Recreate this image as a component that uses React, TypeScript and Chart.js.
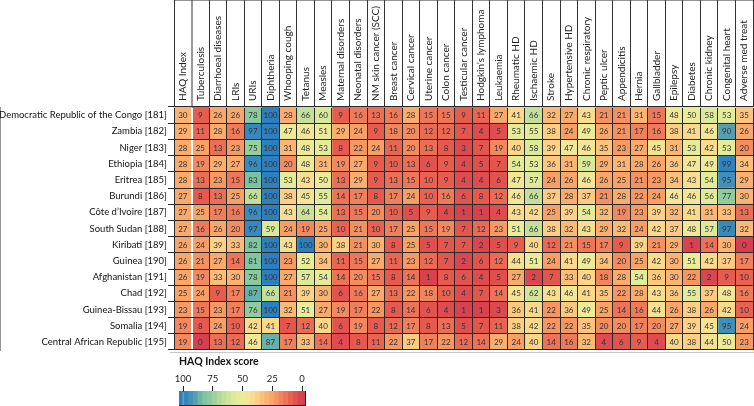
import React, { useEffect, useRef } from 'react';
import { Chart, registerables } from 'chart.js';

Chart.register(...registerables);

const columns = [
  'HAQ Index', 'Tuberculosis', 'Diarrhoeal diseases', 'LRIs', 'URIs', 'Diphtheria', 'Whooping cough',
  'Tetanus', 'Measles', 'Maternal disorders', 'Neonatal disorders', 'NM skin cancer (SCC)', 'Breast cancer',
  'Cervical cancer', 'Uterine cancer', 'Colon cancer', 'Testicular cancer', 'Hodgkin\u2019s lymphoma',
  'Leukaemia', 'Rheumatic HD', 'Ischaemic HD', 'Stroke', 'Hypertensive HD', 'Chronic respiratory',
  'Peptic ulcer', 'Appendicitis', 'Hernia', 'Gallbladder', 'Epilepsy', 'Diabetes', 'Chronic kidney',
  'Congenital heart', 'Adverse med treat',
];

const countries = [
  'Democratic Republic of the Congo [181]', 'Zambia [182]', 'Niger [183]', 'Ethiopia [184]',
  'Eritrea [185]', 'Burundi [186]', 'C\u00f4te d\u2019Ivoire [187]', 'South Sudan [188]', 'Kiribati [189]',
  'Guinea [190]', 'Afghanistan [191]', 'Chad [192]', 'Guinea-Bissau [193]', 'Somalia [194]',
  'Central African Republic [195]',
];

const drc = [30, 9, 26, 26, 78, 100, 28, 66, 60, 9, 16, 13, 16, 28, 15, 15, 9, 11, 27, 41, 66, 32, 27, 43, 21, 21, 31, 15, 48, 50, 58, 53, 35];
const zambia = [29, 11, 28, 16, 97, 100, 47, 46, 51, 29, 24, 9, 18, 20, 12, 12, 7, 4, 5, 53, 55, 38, 24, 49, 26, 21, 17, 16, 38, 41, 46, 90, 26];
const niger = [28, 25, 13, 23, 75, 100, 31, 48, 53, 8, 22, 24, 11, 20, 13, 8, 3, 7, 19, 40, 58, 39, 47, 46, 35, 23, 27, 45, 31, 53, 42, 53, 20];
const ethiopia = [28, 19, 29, 27, 96, 100, 20, 48, 31, 19, 27, 9, 10, 13, 6, 9, 4, 5, 7, 54, 53, 36, 31, 59, 29, 31, 28, 26, 36, 47, 49, 99, 34];
const eritrea = [28, 13, 23, 15, 83, 100, 53, 43, 50, 13, 29, 9, 13, 15, 10, 9, 4, 4, 6, 47, 57, 24, 26, 46, 26, 25, 21, 23, 34, 43, 54, 95, 29];
const burundi = [27, 8, 13, 25, 66, 100, 38, 45, 55, 14, 17, 8, 17, 24, 10, 16, 6, 8, 12, 46, 66, 37, 28, 37, 21, 28, 22, 24, 46, 46, 56, 77, 30];
const coteDIvoire = [27, 25, 17, 16, 96, 100, 43, 64, 54, 13, 15, 20, 10, 5, 9, 4, 1, 1, 4, 43, 42, 25, 39, 54, 32, 19, 23, 39, 32, 41, 31, 33, 13];
const southSudan = [27, 16, 26, 20, 97, 59, 24, 19, 25, 10, 21, 10, 17, 25, 15, 19, 7, 12, 23, 51, 66, 38, 32, 43, 29, 32, 24, 42, 37, 48, 57, 97, 32];
const kiribati = [26, 24, 39, 33, 82, 100, 43, 100, 30, 38, 21, 30, 8, 25, 5, 7, 7, 2, 5, 9, 40, 12, 21, 15, 17, 9, 39, 21, 29, 1, 14, 30, 0];
const guinea = [26, 21, 27, 14, 81, 100, 23, 52, 34, 11, 15, 27, 11, 23, 12, 7, 2, 6, 12, 44, 51, 24, 41, 49, 34, 20, 25, 42, 30, 51, 42, 37, 17];
const afghanistan = [26, 19, 33, 30, 78, 100, 27, 57, 54, 14, 20, 15, 8, 14, 1, 8, 6, 4, 5, 27, 2, 7, 33, 40, 18, 28, 54, 36, 30, 22, 2, 9, 10];
const chad = [25, 24, 9, 17, 87, 66, 21, 39, 30, 6, 16, 27, 13, 22, 18, 10, 4, 7, 14, 45, 62, 43, 46, 41, 35, 22, 28, 43, 36, 55, 37, 48, 16];
const guineaBissau = [23, 15, 23, 17, 76, 100, 32, 51, 27, 19, 17, 22, 8, 14, 6, 4, 1, 1, 3, 36, 41, 22, 36, 49, 25, 14, 16, 44, 26, 38, 26, 42, 10];
const somalia = [19, 8, 24, 10, 42, 41, 7, 12, 40, 6, 19, 8, 12, 17, 8, 13, 5, 7, 11, 38, 42, 22, 22, 35, 20, 20, 17, 20, 27, 39, 45, 95, 24];
const car = [19, 0, 13, 12, 46, 87, 17, 33, 14, 4, 8, 11, 22, 37, 17, 22, 12, 14, 29, 24, 40, 14, 16, 32, 4, 6, 9, 4, 40, 38, 44, 50, 23];

const rows = [drc, zambia, niger, ethiopia, eritrea, burundi, coteDIvoire, southSudan, kiribati, guinea, afghanistan, chad, guineaBissau, somalia, car];

const legendTicks = [100, 75, 50, 25, 0];

const colorStops: [number, string][] = [
  [0, '#d63f4f'], [8, '#e5594e'], [16, '#ef7a5a'], [24, '#f79f66'], [32, '#fbb976'],
  [40, '#fdd68a'], [46, '#f3e696'], [52, '#e7ed99'], [60, '#d6e89a'], [68, '#bcdd9b'],
  [76, '#92cc9d'], [84, '#77c2a2'], [90, '#559fb0'], [96, '#3a8cbc'], [100, '#2d7fbe'],
];

function hexToRgb(h: string) {
  const n = parseInt(h.slice(1), 16);
  return [(n >> 16) & 255, (n >> 8) & 255, n & 255];
}

function haqColor(v: number) {
  const t = Math.max(0, Math.min(100, v));
  for (let i = 0; i < colorStops.length - 1; i++) {
    const [a, ca] = colorStops[i];
    const [b, cb] = colorStops[i + 1];
    if (t >= a && t <= b) {
      const f = b === a ? 0 : (t - a) / (b - a);
      const A = hexToRgb(ca);
      const B = hexToRgb(cb);
      const c = A.map((x, k) => Math.round(x + (B[k] - x) * f));
      return `rgb(${c[0]},${c[1]},${c[2]})`;
    }
  }
  return colorStops[colorStops.length - 1][1];
}

const FONT = 'Lato, "Open Sans", sans-serif';
const LINE = '#2b2b2b';

const cellText = {
  id: 'cellText',
  afterDatasetsDraw(chart: any) {
    const ctx = chart.ctx;
    ctx.save();
    ctx.font = `8px ${FONT}`;
    ctx.fillStyle = '#333';
    ctx.textAlign = 'center';
    ctx.textBaseline = 'middle';
    chart.data.datasets.forEach((_ds: any, ci: number) => {
      const meta = chart.getDatasetMeta(ci);
      meta.data.forEach((el: any, ri: number) => {
        const p = el.getCenterPoint();
        ctx.fillText(String(rows[ri][ci]), p.x, p.y + 0.5);
      });
    });
    ctx.restore();
  },
};

export default function App() {
  const mainRef = useRef<HTMLCanvasElement>(null);
  const legendRef = useRef<HTMLCanvasElement>(null);

  useEffect(() => {
    const charts: Chart[] = [];
    let cancelled = false;
    const build = () => {
      if (cancelled || !mainRef.current || !legendRef.current) return;
      const datasets = columns.map((col, ci) => ({
        label: col,
        data: countries.map(() => 1),
        backgroundColor: rows.map((r) => haqColor(r[ci])),
        borderWidth: 0,
        barPercentage: 1,
        categoryPercentage: 1,
        xAxisID: 'x',
        yAxisID: 'y',
      }));
      charts.push(
        new Chart(mainRef.current, {
          type: 'bar',
          data: { labels: countries, datasets },
          plugins: [cellText],
          options: {
            indexAxis: 'y',
            animation: false,
            responsive: false,
            layout: { padding: { top: 0, left: 0, right: 1, bottom: 56 } },
            plugins: { legend: { display: false }, tooltip: { enabled: false } },
            scales: {
              x: { type: 'linear', stacked: true, min: 0, max: columns.length, display: false },
              x2: {
                type: 'category',
                labels: columns,
                position: 'top',
                offset: true,
                grid: {
                  offset: true,
                  drawOnChartArea: true,
                  tickLength: 107,
                  color: (c: any) => (c.index === 1 ? '#ffffff' : LINE),
                  lineWidth: (c: any) => (c.index === 1 ? 2 : 1),
                  tickColor: '#333',
                  tickWidth: 1,
                  z: 1,
                },
                border: { display: true, color: LINE },
                ticks: {
                  autoSkip: false,
                  minRotation: 90,
                  maxRotation: 90,
                  mirror: true,
                  padding: -6,
                  font: { family: FONT, size: 10 },
                  color: '#222',
                },
                afterFit: (s: any) => { s.height = 107; },
              },
              y: {
                type: 'category',
                stacked: true,
                offset: true,
                grid: { offset: true, tickLength: 6, color: LINE, z: 1 },
                border: { color: LINE },
                ticks: { autoSkip: false, padding: 1, font: { family: FONT, size: 9.5 }, color: '#111' },
                afterFit: (s: any) => { s.width = 174; },
              },
            },
          } as any,
        })
      );

      const segDatasets = [] as any[];
      for (let k = 0; k < 27; k++) {
        const lo = -4 + 4 * k;
        const hi = lo + 4;
        segDatasets.push({
          data: [[lo, hi]],
          backgroundColor: haqColor(100 - (lo + hi) / 2),
          borderWidth: 0,
          barPercentage: 1,
          categoryPercentage: 1,
          grouped: false,
          xAxisID: 'x',
          yAxisID: 'y',
        });
      }
      charts.push(
        new Chart(legendRef.current, {
          type: 'bar',
          data: { labels: ['HAQ'], datasets: segDatasets },
          options: {
            indexAxis: 'y',
            animation: false,
            responsive: false,
            layout: { padding: { left: 9, right: 15, top: 0, bottom: 1 } },
            plugins: { legend: { display: false }, tooltip: { enabled: false } },
            scales: {
              x: {
                type: 'linear',
                position: 'top',
                min: -3.4,
                max: 102.5,
                afterBuildTicks: (s: any) => { s.ticks = legendTicks.map((v) => ({ value: 100 - v })); },
                ticks: {
                  autoSkip: false,
                  maxRotation: 0,
                  padding: 1,
                  callback: (v: any) => String(100 - Number(v)),
                  font: { family: FONT, size: 9.5 },
                  color: '#222',
                },
                grid: { drawOnChartArea: false, tickLength: 5, color: '#222' },
                border: { color: '#222' },
                title: {
                  display: true,
                  text: 'HAQ Index score',
                  align: 'start',
                  font: { family: FONT, size: 10.5, weight: 'bold' },
                  color: '#111',
                  padding: { top: 3, bottom: 0 },
                },
                afterFit: (s: any) => { s.height = 39; },
              },
              xb: {
                type: 'linear', position: 'bottom',
                ticks: { display: false }, grid: { display: false, drawTicks: false }, border: { color: '#222' },
              },
              y: {
                type: 'category', position: 'left',
                ticks: { display: false }, grid: { display: false, drawTicks: false }, border: { color: '#222' },
              },
              yr: {
                type: 'category', labels: ['HAQ'], position: 'right',
                ticks: { display: false }, grid: { display: false, drawTicks: false }, border: { color: '#222' },
              },
            },
          } as any,
        })
      );
    };
    const fontsReady = (document as any).fonts
      ? Promise.all([
          (document as any).fonts.load('10px Lato'),
          (document as any).fonts.load('bold 10px Lato'),
        ]).catch(() => null)
      : Promise.resolve(null);
    fontsReady.then(build);
    return () => {
      cancelled = true;
      charts.forEach((c) => c.destroy());
    };
  }, []);

  return (
    <div style={{ position: 'absolute', left: 0, top: 0, width: 754, height: 406, background: '#fff', overflow: 'hidden' }}>
      <canvas ref={mainRef} width={754} height={406} style={{ position: 'absolute', left: 0, top: 0, display: 'block' }} />
      <div style={{ position: 'absolute', left: 170, top: 352, width: 584, height: 0, borderTop: '1px solid #c8c8c8' }} />
      <canvas ref={legendRef} width={150} height={54} style={{ position: 'absolute', left: 170, top: 352, display: 'block' }} />
    </div>
  );
}
